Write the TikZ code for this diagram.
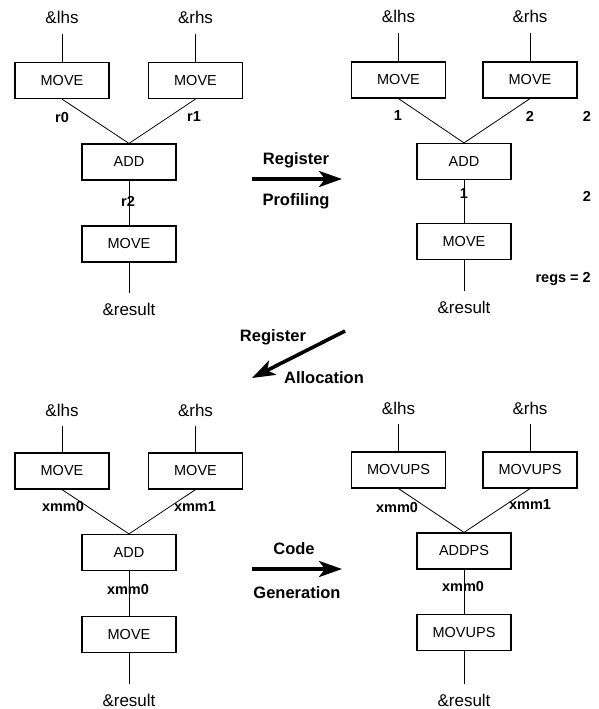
\documentclass[tikz,border=0pt]{standalone}
\usepackage{fontspec}
\setmainfont{Liberation Sans}
\usetikzlibrary{arrows.meta}

\begin{document}
\begin{tikzpicture}[x=1pt,y=-1pt,
    box/.style={draw,line width=1.2pt,minimum width=94pt,minimum height=36pt,inner sep=0pt,font=\fontsize{14.5}{16}\selectfont},
    io/.style={inner xsep=1pt,inner ysep=10pt,text height=12pt,text depth=0pt,font=\fontsize{17}{19}\selectfont},
    reg/.style={inner sep=0pt,font=\bfseries\fontsize{14.5}{16}\selectfont},
    stage/.style={inner sep=0pt,anchor=base,font=\bfseries\fontsize{16.5}{18}\selectfont},
    wire/.style={line width=0.8pt},
    bigarrow/.style={line width=3.6pt,-{Stealth[length=23pt,width=16pt,inset=6pt]}}]
  \useasboundingbox (0,0) rectangle (598,709);

  %tree before profiling
  \node[io] (lhsA) at (62,18) {\&lhs};
  \node[io] (rhsA) at (195.5,18) {\&rhs};
  \node[box] (movlA) at (62,80.5) {MOVE};
  \node[box] (movrA) at (195.5,80.5) {MOVE};
  \node[box] (addA) at (129,162) {ADD};
  \node[box] (movA) at (129,244) {MOVE};
  \node[io] (resA) at (129,309) {\&result};
  \draw[wire] (lhsA) -- (movlA);
  \draw[wire] (rhsA) -- (movrA);
  \draw[wire] (movlA.south) -- (addA.north);
  \draw[wire] (movrA.south) -- (addA.north);
  \draw[wire] (addA) -- (movA);
  \draw[wire] (movA) -- (resA);
  \node[reg] (r0A) at (62,118) {r0};
  \node[reg] (r1A) at (194,117) {r1};
  \node[reg] (r2A) at (128,201) {r2};

  %tree after profiling
  \node[io] (lhsB) at (398.5,17) {\&lhs};
  \node[io] (rhsB) at (530,17) {\&rhs};
  \node[box] (movlB) at (398.5,80) {MOVE};
  \node[box] (movrB) at (530,80) {MOVE};
  \node[box] (addB) at (464,161.5) {ADD};
  \node[box] (movB) at (464,241.5) {MOVE};
  \node[io] (resB) at (464,307) {\&result};
  \draw[wire] (lhsB) -- (movlB);
  \draw[wire] (rhsB) -- (movrB);
  \draw[wire] (movlB.south) -- (addB.north);
  \draw[wire] (movrB.south) -- (addB.north);
  \draw[wire] (addB) -- (movB);
  \draw[wire] (movB) -- (resB);
  \node[reg] (c1B) at (398,116) {1};
  \node[reg] (c2B) at (530,116) {2};
  \node[reg] (m1B) at (587,116) {2};
  \node[reg] (c3B) at (464,194) {1};
  \node[reg] (m2B) at (587,196) {2};
  \node[reg,anchor=east] (regsB) at (591,279) {regs = 2};

  %tree after allocation
  \node[io] (lhsC) at (62,410) {\&lhs};
  \node[io] (rhsC) at (195.5,410) {\&rhs};
  \node[box] (movlC) at (62,471) {MOVE};
  \node[box] (movrC) at (195.5,471) {MOVE};
  \node[box] (addC) at (129,552.5) {ADD};
  \node[box] (movC) at (129,634.5) {MOVE};
  \node[io] (resC) at (129,700) {\&result};
  \draw[wire] (lhsC) -- (movlC);
  \draw[wire] (rhsC) -- (movrC);
  \draw[wire] (movlC.south) -- (addC.north);
  \draw[wire] (movrC.south) -- (addC.north);
  \draw[wire] (addC) -- (movC);
  \draw[wire] (movC) -- (resC);
  \node[reg] (x0C) at (63,507) {xmm0};
  \node[reg] (x1C) at (195,507) {xmm1};
  \node[reg] (x2C) at (128,590) {xmm0};

  %tree after code generation
  \node[io] (lhsD) at (398.5,408) {\&lhs};
  \node[io] (rhsD) at (530,408) {\&rhs};
  \node[box] (movlD) at (398.5,470) {MOVUPS};
  \node[box] (movrD) at (530,470) {MOVUPS};
  \node[box] (addD) at (464,551) {ADDPS};
  \node[box] (movD) at (464,632.5) {MOVUPS};
  \node[io] (resD) at (464,700) {\&result};
  \draw[wire] (lhsD) -- (movlD);
  \draw[wire] (rhsD) -- (movrD);
  \draw[wire] (movlD.south) -- (addD.north);
  \draw[wire] (movrD.south) -- (addD.north);
  \draw[wire] (addD) -- (movD);
  \draw[wire] (movD) -- (resD);
  \node[reg] (x0D) at (397,508) {xmm0};
  \node[reg] (x1D) at (530,505) {xmm1};
  \node[reg] (x2D) at (463,587) {xmm0};

  %big arrows between the stages
  \coordinate (prof1) at (252,179);
  \coordinate (prof2) at (342,179);
  \draw[bigarrow] (prof1) -- (prof2);
  \node[stage] (profA) at (296,164) {Register};
  \node[stage] (profB) at (296,205) {Profiling};

  \coordinate (alloc1) at (345,331);
  \coordinate (alloc2) at (252,378);
  \draw[bigarrow] (alloc1) -- (alloc2);
  \node[stage] (allocA) at (273,341) {Register};
  \node[stage] (allocB) at (324,383) {Allocation};

  \coordinate (gen1) at (252,569);
  \coordinate (gen2) at (342,569);
  \draw[bigarrow] (gen1) -- (gen2);
  \node[stage] (genA) at (294,554) {Code};
  \node[stage] (genB) at (297,598) {Generation};
\end{tikzpicture}
\end{document}
